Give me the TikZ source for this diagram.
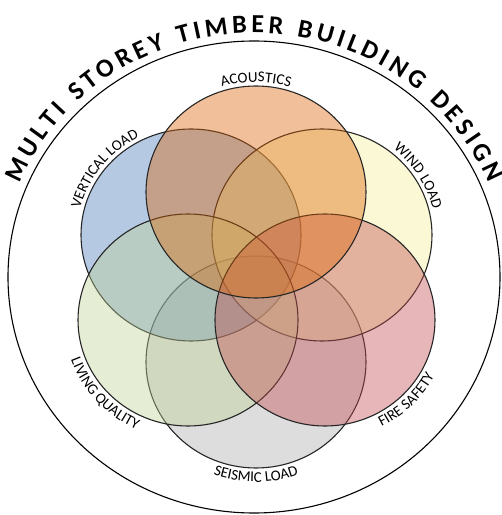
\documentclass[tikz,border=0pt]{standalone}
\usepackage{fontspec}
\setmainfont{Carlito}
\usetikzlibrary{decorations.text}
\newcommand\labf{\fontsize{15}{15}\selectfont}
\newcommand\titf{\fontsize{26}{26}\selectfont\bfseries}
\definecolor{acou}{RGB}{220,98,3}
\definecolor{vert}{RGB}{72,120,187}
\definecolor{wind}{RGB}{245,238,153}
\definecolor{fire}{RGB}{193,73,78}
\definecolor{seis}{RGB}{170,170,170}
\definecolor{livq}{RGB}{190,210,148}
\begin{document}
\begin{tikzpicture}[x=1pt,y=1pt,
  venn/.style={draw=black!85, line width=1.1pt, fill=#1, fill opacity=0.4},
  toplab/.style={decorate, decoration={text along path, text align=center, text={|\labf|#1}}},
  titlab/.style={decorate, decoration={text along path, text align=fit to path, text={|\titf|#1}}}]
\useasboundingbox (0,0) rectangle (502,515);
\fill[white] (0,0) rectangle (502,515);
% centres
\coordinate (O) at (254,238);
\coordinate (A) at (256,323);
\coordinate (V) at (191,280);
\coordinate (W) at (322,280);
\coordinate (L) at (188,195);
\coordinate (F) at (325,195);
\coordinate (S) at (256,153);
% outer circle
\draw[line width=1.1pt, black] (O) ellipse [x radius=246, y radius=236];
% venn circles (bottom to top)
\path[venn=seis] (S) ellipse [x radius=110, y radius=106];
\path[venn=vert] (V) ellipse [x radius=110, y radius=106];
\path[venn=wind] (W) ellipse [x radius=110, y radius=106];
\path[venn=livq] (L) ellipse [x radius=110, y radius=106];
\path[venn=fire] (F) ellipse [x radius=110, y radius=106];
\path[venn=acou] (A) ellipse [x radius=110, y radius=106];
% title
\path[titlab={MULTI STOREY TIMBER BUILDING DESIGN}, shift={(O)}]
  (157.5:254 and 244) arc[start angle=157.5, end angle=22.7, x radius=254, y radius=244];
% labels, clockwise (top side)
\path[toplab={ACOUSTICS}, shift={(A)}]
  (140:114 and 110) arc[start angle=140, end angle=40, x radius=114, y radius=110];
\path[toplab={VERTICAL LOAD}, shift={(V)}]
  (192:114 and 110) arc[start angle=192, end angle=92, x radius=114, y radius=110];
\path[toplab={WIND LOAD}, shift={(W)}]
  (82:114 and 110) arc[start angle=82, end angle=-18, x radius=114, y radius=110];
% labels, counter-clockwise (bottom side)
\path[toplab={LIVING QUALITY}, shift={(L)}]
  (172:124 and 120) arc[start angle=172, end angle=272, x radius=124, y radius=120];
\path[toplab={SEISMIC LOAD}, shift={(S)}]
  (220:124 and 120) arc[start angle=220, end angle=320, x radius=124, y radius=120];
\path[toplab={FIRE SAFETY}, shift={(F)}]
  (265:124 and 120) arc[start angle=265, end angle=365, x radius=124, y radius=120];
\end{tikzpicture}
\end{document}
